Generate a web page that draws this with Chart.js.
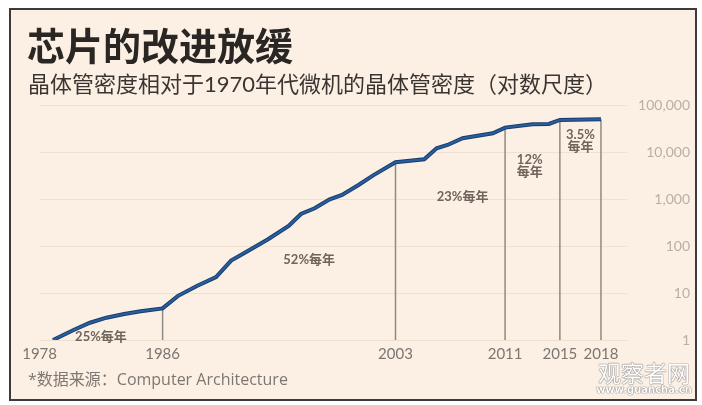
<!DOCTYPE html>
<html lang="zh-CN">
<head>
<meta charset="utf-8">
<title>芯片的改进放缓</title>
<script src="https://cdn.jsdelivr.net/npm/chart.js@4.4.1/dist/chart.umd.min.js"></script>
<style>
  html, body { margin: 0; padding: 0; background: #fff; }
  #wrap { position: relative; width: 702px; height: 405px; overflow: hidden; }
  .frame { position: absolute; left: 9px; top: 8px; width: 684px; height: 389px;
           border: 2px solid #3b3b3b; background: #fcf0e4; }
  canvas { position: absolute; left: 0; top: 0; }
  .title { position: absolute; left: 27px; top: 25px; white-space: nowrap;
           font: 700 38px/38px "Noto Sans CJK SC", sans-serif; color: #2a2623; }
  .sub { position: absolute; left: 28px; top: 73px; white-space: nowrap;
         font: 400 22px/22px Lato, "Noto Sans CJK SC", sans-serif; color: #3a3532; }
  .src { position: absolute; left: 28px; top: 371px; white-space: nowrap;
         font: 400 16px/16px "Open Sans", "Noto Sans CJK SC", sans-serif; color: #7d7771; }
  .wm { position: absolute; left: 596px; top: 360px; width: 96px; text-align: center;
        color: #fff; text-shadow: 0 0 1px #7a7a7a, 0 0 1px #7a7a7a, 0 0 1px #7a7a7a; }
  .wm .a { font: 400 23px/24px "Noto Sans CJK SC", sans-serif; }
  .wm .b { font: 700 10px/11px "DejaVu Sans", sans-serif; }
</style>
</head>
<body>
<div id="wrap">
  <div class="frame"></div>
  <canvas id="chart" width="702" height="405"></canvas>
  <div class="title">芯片的改进放缓</div>
  <div class="sub">晶体管密度相对于1970年代微机的晶体管密度（对数尺度）</div>
  <div class="src">*数据来源：Computer Architecture</div>
  <div class="wm"><div class="a">观察者网</div><div class="b">www.guancha.cn</div></div>
</div>
<script>
// transistor density vs 1970s microprocessors (log scale)
const years = [1978, 1979.5, 1980.7, 1981.9, 1983.2, 1984.4, 1986, 1987.1, 1988.5, 1989.9,
  1991, 1992, 1993.7, 1995.2, 1996.1, 1997.1, 1998.2, 1999.1, 2000.3, 2001.4,
  2003, 2005.1, 2006, 2006.8, 2007.9, 2010.1, 2011, 2013, 2014.2, 2015, 2018];
const density = [1, 1.63, 2.33, 2.98, 3.57, 4.08, 4.7, 8.6, 14.1, 21.9,
  49, 72, 139, 267, 479, 635, 984, 1216, 1990, 3225,
  6060, 7000, 12000, 14100, 19600, 25000, 33000, 38900, 39600, 48000, 50000];

const xTicks = [1978, 1986, 2003, 2011, 2015, 2018];
const yTicks = [1, 10, 100, 1000, 10000, 100000];
const guideYears = [1986, 2003, 2011, 2015, 2018];

// growth notes, anchored in data coordinates (year, density)
const noteText = [['25%每年'], ['52%每年'], ['23%每年'], ['12%', '每年'], ['3.5%', '每年']];
const noteYear = [1981.5, 1996.7, 2007.9, 2012.8, 2016.5];
const noteValue = [1.16, 50, 1100, 6760, 23000];

function valueAt(yr) {
  return density[years.indexOf(yr)];
}

const points = years.map((yr, i) => ({ x: yr, y: density[i] }));

const guides = guideYears.map(yr => ({
  data: [{ x: yr, y: 1 }, { x: yr, y: valueAt(yr) }],
  borderColor: '#8f8983',
  borderWidth: 1.5,
  pointRadius: 0,
  order: 2
}));

const labelsPlugin = {
  id: 'labels',
  afterDatasetsDraw(chart) {
    const ctx = chart.ctx;
    const x = chart.scales.x, y = chart.scales.y;
    ctx.save();
    ctx.textBaseline = 'middle';
    ctx.font = '15px Lato, "Noto Sans CJK SC"';
    ctx.fillStyle = '#7b756f';
    xTicks.forEach((yr, i) => {
      const px = x.getPixelForValue(yr);
      // first label sits left of its point, as in the original
      ctx.textAlign = i === 0 ? 'right' : 'center';
      ctx.fillText(String(yr), i === 0 ? px + 4 : px, y.bottom + 14);
    });
    ctx.font = 'bold 13px Lato, "Noto Sans CJK SC"';
    ctx.fillStyle = '#6e655c';
    ctx.textAlign = 'center';
    noteText.forEach((lines, i) => {
      const px = x.getPixelForValue(noteYear[i]);
      const py = y.getPixelForValue(noteValue[i]);
      lines.forEach((t, k) => ctx.fillText(t, px, py + k * 12));
    });
    ctx.restore();
  }
};

new Chart(document.getElementById('chart'), {
  type: 'line',
  data: {
    datasets: guides.concat([
      { data: points, borderColor: '#173c6c', borderWidth: 4, pointRadius: 0, order: 1 },
      { data: points, borderColor: '#2a5f9f', borderWidth: 2, pointRadius: 0, order: 0 }
    ])
  },
  options: {
    responsive: false,
    animation: false,
    layout: { padding: { left: 40, top: 105, bottom: 65, right: 12 } },
    plugins: { legend: { display: false }, tooltip: { enabled: false } },
    scales: {
      x: {
        type: 'linear',
        display: false,
        min: 1977.05,
        max: 2019.9
      },
      y: {
        type: 'logarithmic',
        position: 'right',
        min: 1,
        max: 100000,
        afterBuildTicks(scale) {
          scale.ticks = yTicks.map(v => ({ value: v }));
        },
        afterFit(scale) {
          scale.width = 63;
        },
        grid: { color: '#efe0d0', lineWidth: 1, drawTicks: false },
        border: { display: false },
        ticks: {
          crossAlign: 'far',
          padding: 1,
          color: '#b8afa6',
          font: { family: 'Lato', size: 14 },
          callback: v => v.toLocaleString('en-US')
        }
      }
    }
  },
  plugins: [labelsPlugin]
});
</script>
</body>
</html>
